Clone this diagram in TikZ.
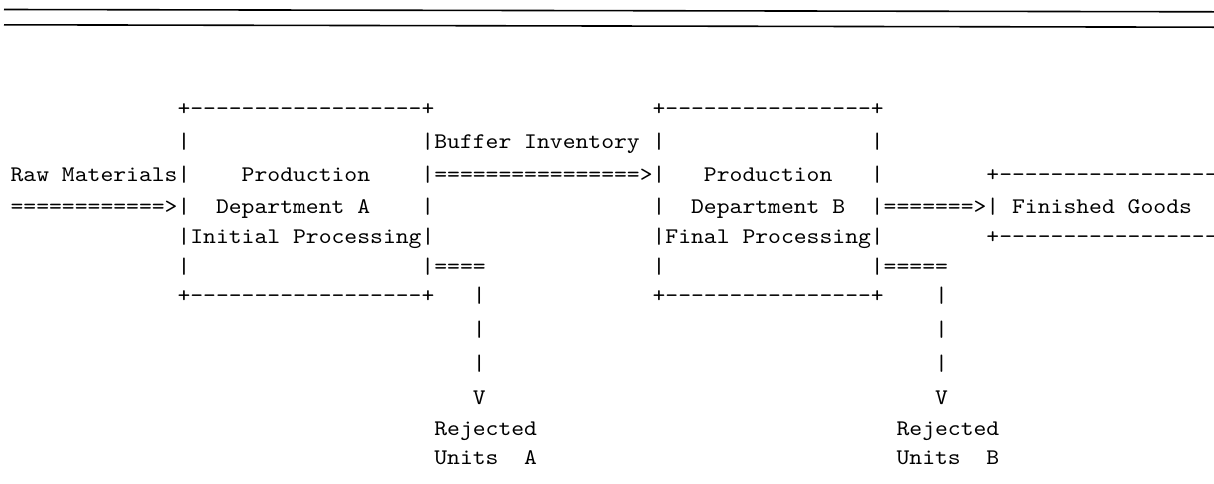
\documentclass[tikz,border=0pt]{standalone}
\usepackage{fontspec}
% Typewriter face, widened a little so one character cell is 12.84pt
\newfontfamily\asciifont[FakeStretch=1.097,WordSpace={1,0,0}]{lmmono10-regular.otf}
\tikzset{
  asc/.style={font={\asciifont\fontsize{22.3pt}{26pt}\selectfont},
              anchor=base west, inner sep=0pt, outer sep=0pt, text=black},
  rule/.style={line width=1.6pt, draw=black}
}
\begin{document}
\begin{tikzpicture}[x=1pt,y=-1pt]
\useasboundingbox (0,0) rectangle (1214,483);
\fill[white] (0,0) rectangle (1214,483);

% header rules
\draw[rule] (4,9.5) -- (1214,11.8);
\draw[rule] (4,24.8) -- (1214,27.2);

% character grid: x in columns, y in points (baselines)
\begin{scope}[x=12.84pt, xshift=10.6pt]
  % row 1
  \node[asc] (aTop) at (13,115) {+------------------+};
  \node[asc] (bTop) at (50,115) {+----------------+};
  % row 2
  \node[asc] (aL2)  at (13,148) {|};
  \node[asc] (buf)  at (32,148) {|Buffer Inventory |};
  \node[asc] (bR2)  at (67,148) {|};
  % row 3
  \node[asc] (raw)      at (0,181)  {Raw Materials|};
  \node[asc] (aProd)    at (18,181) {Production};
  \node[asc] (bufArrow) at (32,181) {|================>|};
  \node[asc] (bProd)    at (54,181) {Production};
  \node[asc] (bR3)      at (67,181) {|};
  \node[asc] (fgTop)    at (76,181) {+-----------------};
  % row 4
  \node[asc] (rawArrow) at (0,213)  {============>|};
  \node[asc] (aDept)    at (16,213) {Department A};
  \node[asc] (aR4)      at (32,213) {|};
  \node[asc] (bL4)      at (50,213) {|};
  \node[asc] (bDept)    at (53,213) {Department B};
  \node[asc] (fgArrow)  at (67,213) {|=======>|};
  \node[asc] (fg)       at (78,213) {Finished Goods};
  % row 5
  \node[asc] (aProc)  at (13,243) {|Initial Processing|};
  \node[asc] (bProc)  at (50,243) {|Final Processing|};
  \node[asc] (fgBot)  at (76,243) {+-----------------};
  % row 6
  \node[asc] (aL6)  at (13,273) {|};
  \node[asc] (aRej) at (32,273) {|====};
  \node[asc] (bL6)  at (50,273) {|};
  \node[asc] (bRej) at (67,273) {|=====};
  % row 7
  \node[asc] (aBot)   at (13,302) {+------------------+};
  \node[asc] (aDrop1) at (36,302) {|};
  \node[asc] (bBot)   at (50,302) {+----------------+};
  \node[asc] (bDrop1) at (72,302) {|};
  % rows 8-10
  \node[asc] (aDrop2) at (36,336) {|};
  \node[asc] (bDrop2) at (72,336) {|};
  \node[asc] (aDrop3) at (36,370) {|};
  \node[asc] (bDrop3) at (72,370) {|};
  \node[asc] (aHead)  at (36,404) {V};
  \node[asc] (bHead)  at (72,404) {V};
  % rows 11-12
  \node[asc] (aRejA) at (33,435) {Rejected};
  \node[asc] (bRejA) at (69,435) {Rejected};
  \node[asc] (aRejB) at (33,464) {Units\ \ A};
  \node[asc] (bRejB) at (69,464) {Units\ \ B};
\end{scope}
\end{tikzpicture}
\end{document}
